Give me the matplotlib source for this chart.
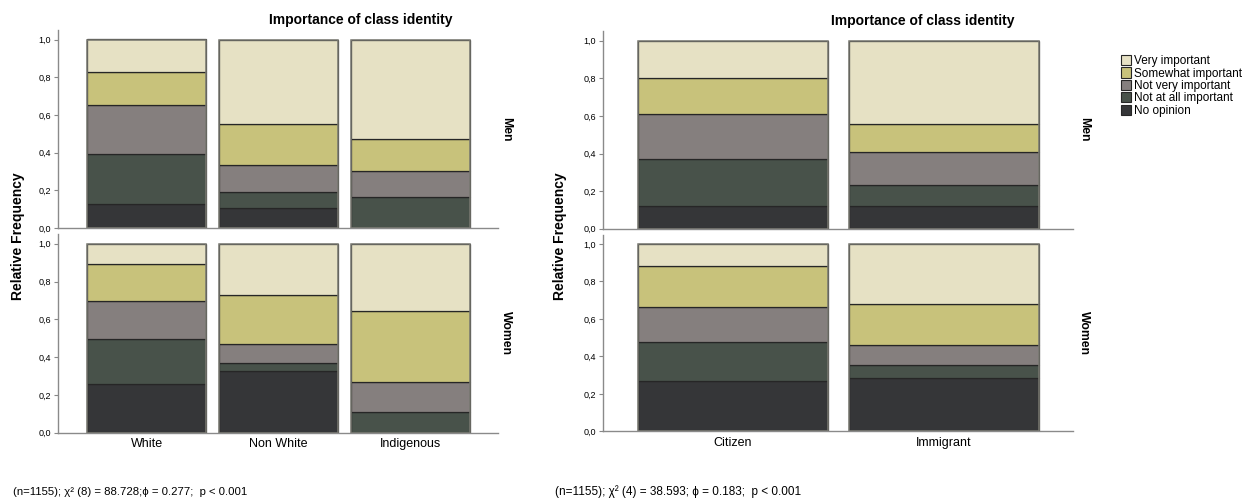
import numpy as np
import matplotlib
matplotlib.use("Agg")
import matplotlib.pyplot as plt
from matplotlib.patches import Patch

plt.rcParams['font.family'] = ['Liberation Sans', 'DejaVu Sans']

# response levels, stacked from the bottom up
responses = ["No opinion", "Not at all important", "Not very important",
             "Somewhat important", "Very important"]
colors = ["#353638", "#48524a", "#857f7e", "#c8c27b", "#e6e1c4"]

ethnic_groups = ["White", "Non White", "Indigenous"]
status_groups = ["Citizen", "Immigrant"]

# shares per group (columns follow `responses`)
ethnic_men = np.array([
    [0.127, 0.266, 0.258, 0.176, 0.173],
    [0.108, 0.084, 0.143, 0.219, 0.446],
    [0.000, 0.164, 0.141, 0.166, 0.529],
])
ethnic_women = np.array([
    [0.259, 0.237, 0.201, 0.195, 0.108],
    [0.325, 0.045, 0.099, 0.258, 0.273],
    [0.000, 0.108, 0.162, 0.374, 0.356],
])
status_men = np.array([
    [0.121, 0.250, 0.241, 0.191, 0.197],
    [0.121, 0.109, 0.180, 0.149, 0.441],
])
status_women = np.array([
    [0.267, 0.208, 0.190, 0.218, 0.117],
    [0.286, 0.070, 0.103, 0.222, 0.319],
])

title = "Importance of class identity"
note_ethnic = "(n=1155); χ² (8) = 88.728;ϕ = 0.277;  p < 0.001"
note_status = "(n=1155); χ² (4) = 38.593; ϕ = 0.183;  p < 0.001"

W, H = 1248, 499
fig = plt.figure(figsize=(W / 100, H / 100), dpi=100)


def px_axes(x0, x1, y_zero, y_one):
    # axes from pixel positions; the y range runs to 1.05
    top = y_zero - 1.05 * (y_zero - y_one)
    return fig.add_axes([x0 / W, 1 - y_zero / H, (x1 - x0) / W, (y_zero - top) / H])


def stacked(ax, shares, labels, xlim, show_x):
    x = np.arange(len(labels))
    bottom = np.zeros(len(labels))
    for j in range(shares.shape[1]):
        ax.bar(x, shares[:, j], 0.9, bottom=bottom, color=colors[j],
               edgecolor="#262626", linewidth=0.9)
        bottom += shares[:, j]
    ax.bar(x, bottom, 0.9, fill=False, edgecolor="#7a7a72", linewidth=1.1)
    ax.set_xlim(*xlim)
    ax.set_ylim(0, 1.05)
    ax.set_yticks(np.arange(0, 1.01, 0.2))
    ax.set_yticklabels([f"{v:.1f}".replace(".", ",") for v in np.arange(0, 1.01, 0.2)],
                       fontsize=6.5)
    ax.tick_params(axis="y", length=3, color="#888888", pad=2)
    ax.tick_params(axis="x", length=0, pad=4)
    ax.set_xticks(x)
    ax.set_xticklabels(labels if show_x else [], fontsize=9)
    for s in ["top", "right"]:
        ax.spines[s].set_visible(False)
    for s in ["left", "bottom"]:
        ax.spines[s].set_color("#8a8a8a")
        ax.spines[s].set_linewidth(1.0)


# left block: ethnicity
a1 = px_axes(58, 498, 228.0, 39.5)
a2 = px_axes(58, 498, 432.7, 243.7)
stacked(a1, ethnic_men, ethnic_groups, (-0.67, 2.66), False)
stacked(a2, ethnic_women, ethnic_groups, (-0.67, 2.66), True)

# right block: citizenship
b1 = px_axes(603, 1073, 228.7, 40.7)
b2 = px_axes(603, 1073, 431.3, 244.0)
stacked(b1, status_men, status_groups, (-0.616, 1.611), False)
stacked(b2, status_women, status_groups, (-0.616, 1.611), True)

fig.text(361 / W, 1 - 20 / H, title, ha="center", va="center",
         fontsize=10, fontweight="bold")
fig.text(923 / W, 1 - 21 / H, title, ha="center", va="center",
         fontsize=10, fontweight="bold")

for xp in (18, 560):
    fig.text(xp / W, 1 - 236 / H, "Relative Frequency", rotation=90,
             ha="center", va="center", fontsize=10, fontweight="bold")

for xp in (506, 1084):
    fig.text(xp / W, 1 - 129 / H, "Men", rotation=-90, ha="center",
             va="center", fontsize=8.8, fontweight="bold")
    fig.text(xp / W, 1 - 333 / H, "Women", rotation=-90, ha="center",
             va="center", fontsize=8.8, fontweight="bold")

fig.text(13 / W, 1 - 492 / H, note_ethnic, ha="left", va="center", fontsize=8.2)
fig.text(555 / W, 1 - 492 / H, note_status, ha="left", va="center", fontsize=8.5)

handles = [Patch(facecolor=colors[j], edgecolor="#262626", linewidth=0.8,
                 label=responses[j]) for j in range(len(responses) - 1, -1, -1)]
fig.legend(handles=handles, loc="upper left",
           bbox_to_anchor=(1121 / W, 1 - 55 / H), frameon=False,
           fontsize=8.5, handlelength=0.85, handleheight=0.95,
           handletextpad=0.25, labelspacing=0.02, borderpad=0,
           borderaxespad=0)

fig.savefig("out.png", dpi=100)
